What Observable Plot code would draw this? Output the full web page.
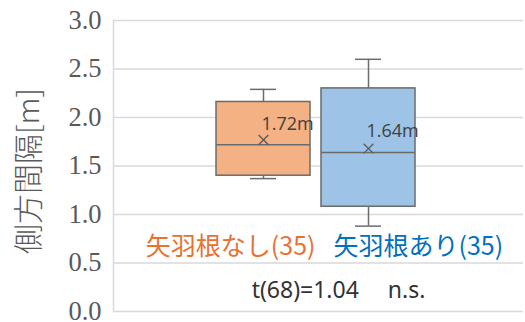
<!DOCTYPE html>
<html>
<head>
<meta charset="utf-8">
<script src="https://cdn.jsdelivr.net/npm/d3@7"></script>
<script src="https://cdn.jsdelivr.net/npm/@observablehq/plot@0.6"></script>
<style>
  body { margin: 0; background: #fff; }
</style>
</head>
<body>
<div id="chart"></div>
<script>
// Lateral clearance [m] with and without arrow-feather road markings
const groups = ["矢羽根なし", "矢羽根あり"];
const counts = [35, 35];
const whiskerLow = [1.37, 0.88];
const q1 = [1.40, 1.08];
const median = [1.72, 1.64];
const q3 = [2.16, 2.30];
const whiskerHigh = [2.29, 2.60];
const mean = [1.77, 1.68];
const yTicks = [0, 0.5, 1, 1.5, 2, 2.5, 3];
const tDf = 68;
const tValue = 1.04;
const significance = "n.s.";

const boxFill = ["#F4B183", "#9DC3E6"];
const labelColor = ["#E97132", "#0070C0"];

const rows = groups.map((g, i) => ({
  group: g, n: counts[i], lo: whiskerLow[i], q1: q1[i], median: median[i],
  q3: q3[i], hi: whiskerHigh[i], mean: mean[i], fill: boxFill[i], color: labelColor[i]
}));

const lineGray = "#6b6b6b";
const sans = "'Noto Sans CJK JP', 'Noto Sans', sans-serif";

const chart = Plot.plot({
  width: 525,
  height: 322,
  marginLeft: 113,
  marginRight: 2,
  marginTop: 20,
  marginBottom: 11,
  style: { background: "#fff", fontFamily: sans },
  x: { type: "band", domain: groups, paddingInner: 0.104, paddingOuter: 0.986, align: 0.488, axis: null },
  y: { domain: [0, 3], axis: null },
  marks: [
    Plot.gridY(yTicks, { stroke: "#d9d9d9", strokeOpacity: 1, strokeWidth: 1.5 }),
    Plot.frame({ anchor: "left", stroke: "#d9d9d9", strokeOpacity: 1, strokeWidth: 1.5 }),
    Plot.axisY(yTicks, {
      tickSize: 0, tickPadding: 12, tickFormat: d => d.toFixed(1), label: null,
      fontFamily: "'Liberation Serif', serif", fontSize: 26.5, fill: "#595959"
    }),
    // whiskers
    Plot.ruleX(rows, { x: "group", y1: "lo", y2: "q1", stroke: lineGray, strokeWidth: 1.5 }),
    Plot.ruleX(rows, { x: "group", y1: "q3", y2: "hi", stroke: lineGray, strokeWidth: 1.5 }),
    Plot.tickY(rows, { x: "group", y: "lo", insetLeft: 34, insetRight: 34, stroke: lineGray, strokeWidth: 1.5 }),
    Plot.tickY(rows, { x: "group", y: "hi", insetLeft: 34, insetRight: 34, stroke: lineGray, strokeWidth: 1.5 }),
    // boxes and medians
    Plot.barY(rows, { x: "group", y1: "q1", y2: "q3", fill: "fill", stroke: lineGray, strokeWidth: 1.5 }),
    Plot.tickY(rows, { x: "group", y: "median", stroke: lineGray, strokeWidth: 1.5 }),
    // means
    Plot.dot(rows, { x: "group", y: "mean", symbol: "times", r: 4.5, stroke: "#595959", strokeWidth: 1.3 }),
    // median value labels
    Plot.text(rows, {
      x: "group", y: "median", text: d => `${d.median.toFixed(2)}m`,
      textAnchor: "start", lineAnchor: "bottom", dy: -15, dx: -2,
      fontSize: 18, fill: "#404040", fontFamily: "'Open Sans', 'Noto Sans', sans-serif", letterSpacing: -0.5
    }),
    // group labels with sample size
    Plot.text(rows.slice(0, 1), {
      x: "group", text: d => `${d.group}(${d.n})`, fill: "color",
      frameAnchor: "bottom", lineAnchor: "middle", dy: -65, textAnchor: "end", dx: 52,
      fontSize: 25
    }),
    Plot.text(rows.slice(1, 2), {
      x: "group", text: d => `${d.group}(${d.n})`, fill: "color",
      frameAnchor: "bottom", lineAnchor: "middle", dy: -65, textAnchor: "start", dx: -35,
      fontSize: 25
    }),
    // t-test result
    Plot.text([`t(${tDf})=${tValue.toFixed(2)}\u2003 ${significance}`], {
      frameAnchor: "bottom", textAnchor: "middle", lineAnchor: "middle", dy: -21, dx: 20,
      fontSize: 23, fill: "#333", fontFamily: "'Noto Sans', sans-serif"
    }),
    // y-axis title
    Plot.text(["側方間隔[m]"], {
      frameAnchor: "left", textAnchor: "middle", rotate: -90, dx: -84, dy: 5, lineAnchor: "middle",
      fontSize: 30, fill: "#595959", fontWeight: 300
    })
  ]
});

document.getElementById("chart").appendChild(chart);
</script>
</body>
</html>
